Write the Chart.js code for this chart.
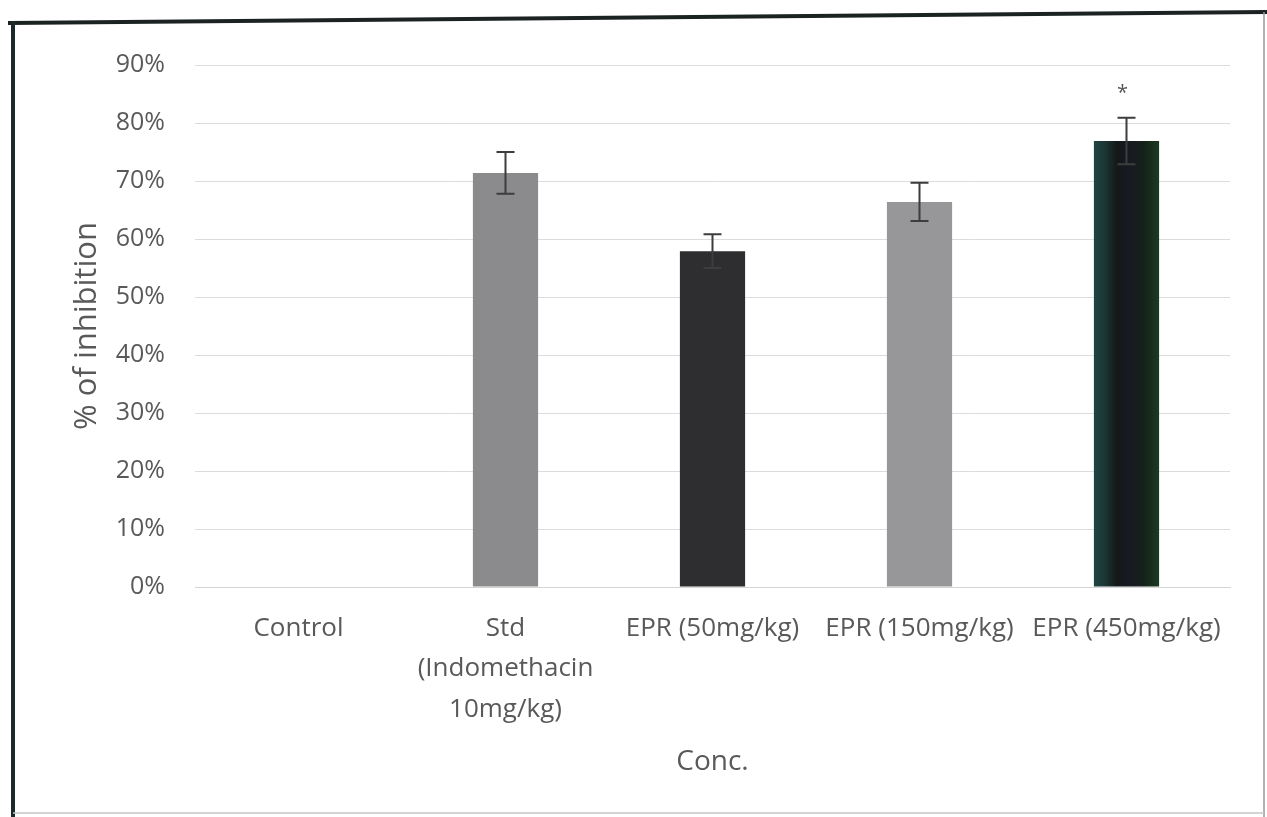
<!DOCTYPE html>
<html>
<head>
<meta charset="utf-8">
<script src="https://cdn.jsdelivr.net/npm/chart.js@4/dist/chart.umd.min.js"></script>
<style>
  html, body { margin: 0; padding: 0; background: #ffffff; }
  canvas { display: block; }
</style>
</head>
<body>
<canvas id="chart" width="1267" height="817"></canvas>
<script>
// Groups on the x axis (multi-line label for the standard drug)
const categories = [
  'Control',
  ['Std', '(Indomethacin', '10mg/kg)'],
  'EPR (50mg/kg)',
  'EPR (150mg/kg)',
  'EPR (450mg/kg)'
];
// Mean % of inhibition per group
const inhibition = [0, 71.4, 57.9, 66.4, 76.9];
// Error (±) per group
const errors = [0, 3.6, 2.9, 3.3, 4.0];
// Significance markers above the error bars
const significance = ['', '', '', '', '*'];
// Y axis tick values (percent)
const yTicks = [0, 10, 20, 30, 40, 50, 60, 70, 80, 90];

const TEXT = '#595959';
const FONT = "'Open Sans', 'Noto Sans', sans-serif";

// Bar fill per group; the highest dose gets a dark teal-to-green shaded fill
function barFill(ctx) {
  const i = ctx.dataIndex;
  const solid = ['#8a8a8a', '#8b8b8d', '#2e2e31', '#979799'];
  if (i < 4) return solid[i];
  const chart = ctx.chart;
  const xs = chart.scales && chart.scales.x;
  if (!xs || !chart.chartArea) return '#1c2623';
  const cx = xs.getPixelForValue(i);
  const half = xs.width / categories.length * 0.315 / 2;
  const g = chart.ctx.createLinearGradient(cx - half, 0, cx + half, 0);
  g.addColorStop(0.0, '#1e4542');
  g.addColorStop(0.18, '#1a3533');
  g.addColorStop(0.35, '#141818');
  g.addColorStop(0.55, '#181a22');
  g.addColorStop(0.75, '#15201a');
  g.addColorStop(1.0, '#1d3a24');
  return g;
}

// Draws error bars and significance markers from the data arrays
const errorBars = {
  id: 'errorBars',
  afterDatasetsDraw(chart) {
    const { ctx, scales: { y } } = chart;
    const meta = chart.getDatasetMeta(0);
    ctx.save();
    ctx.strokeStyle = '#3d3d3d';
    ctx.lineWidth = 2;
    inhibition.forEach((v, i) => {
      const e = errors[i];
      if (!e) return;
      const cx = meta.data[i].x;
      const yt = y.getPixelForValue(v + e);
      const yb = y.getPixelForValue(v - e);
      ctx.beginPath();
      ctx.moveTo(cx, yt); ctx.lineTo(cx, yb);
      ctx.moveTo(cx - 9, yt); ctx.lineTo(cx + 9, yt);
      ctx.moveTo(cx - 9, yb); ctx.lineTo(cx + 9, yb);
      ctx.stroke();
      if (significance[i]) {
        ctx.fillStyle = '#555555';
        ctx.font = "20px " + FONT;
        ctx.textAlign = 'center';
        ctx.textBaseline = 'alphabetic';
        ctx.fillText(significance[i], cx - 4, yt - 19);
      }
    });
    ctx.restore();
  }
};

// White page with a frame around the figure
const frame = {
  id: 'frame',
  beforeDraw(chart) {
    const { ctx, width, height } = chart;
    ctx.save();
    ctx.fillStyle = '#ffffff';
    ctx.fillRect(0, 0, width, height);
    ctx.restore();
  },
  afterDraw(chart) {
    const { ctx } = chart;
    ctx.save();
    // top edge, slightly tilted
    ctx.strokeStyle = '#1b2222';
    ctx.lineWidth = 4;
    ctx.beginPath();
    ctx.moveTo(8, 23);
    ctx.lineTo(1267, 12);
    ctx.stroke();
    // left edge
    ctx.strokeStyle = '#1a2a2a';
    ctx.lineWidth = 4;
    ctx.beginPath();
    ctx.moveTo(13, 21);
    ctx.lineTo(13, 817);
    ctx.stroke();
    // right edge
    ctx.strokeStyle = '#9a9a9a';
    ctx.lineWidth = 1.5;
    ctx.beginPath();
    ctx.moveTo(1264, 12);
    ctx.lineTo(1264, 817);
    ctx.stroke();
    // bottom edge
    ctx.strokeStyle = '#c4c4c4';
    ctx.lineWidth = 1.5;
    ctx.beginPath();
    ctx.moveTo(13, 813);
    ctx.lineTo(1264, 813);
    ctx.stroke();
    ctx.restore();
  }
};

new Chart(document.getElementById('chart'), {
  type: 'bar',
  data: {
    labels: categories,
    datasets: [{
      data: inhibition,
      backgroundColor: barFill,
      borderWidth: 0,
      barPercentage: 0.315,
      categoryPercentage: 1.0
    }]
  },
  options: {
    responsive: false,
    animation: false,
    devicePixelRatio: 1,
    layout: { padding: { left: 0, top: 65, right: 37, bottom: 38 } },
    plugins: {
      legend: { display: false },
      tooltip: { enabled: false }
    },
    scales: {
      x: {
        grid: { display: false, drawTicks: false },
        border: { display: true, color: '#d4d4d4', width: 1 },
        ticks: {
          color: TEXT,
          font: { family: FONT, size: 26, lineHeight: 1.54 },
          padding: 22,
          maxRotation: 0,
          minRotation: 0,
          autoSkip: false
        },
        title: {
          display: true,
          text: 'Conc.',
          color: TEXT,
          font: { family: FONT, size: 28, lineHeight: 1.2 },
          padding: { top: 0, bottom: 0 }
        },
        afterFit(scale) { scale.height = 192; }
      },
      y: {
        min: 0,
        max: 90,
        afterBuildTicks(scale) { scale.ticks = yTicks.map(v => ({ value: v })); },
        grid: { color: '#dcdcdc', lineWidth: 1, drawTicks: false },
        border: { display: false },
        ticks: {
          color: TEXT,
          font: { family: FONT, size: 25 },
          padding: 30,
          callback: v => v + '%'
        },
        title: {
          display: true,
          text: '% of inhibition',
          color: TEXT,
          font: { family: FONT, size: 31, lineHeight: 1.2 },
          padding: { top: 69, bottom: 0 }
        },
        afterFit(scale) { scale.width = 195; }
      }
    }
  },
  plugins: [frame, errorBars]
});
</script>
</body>
</html>
